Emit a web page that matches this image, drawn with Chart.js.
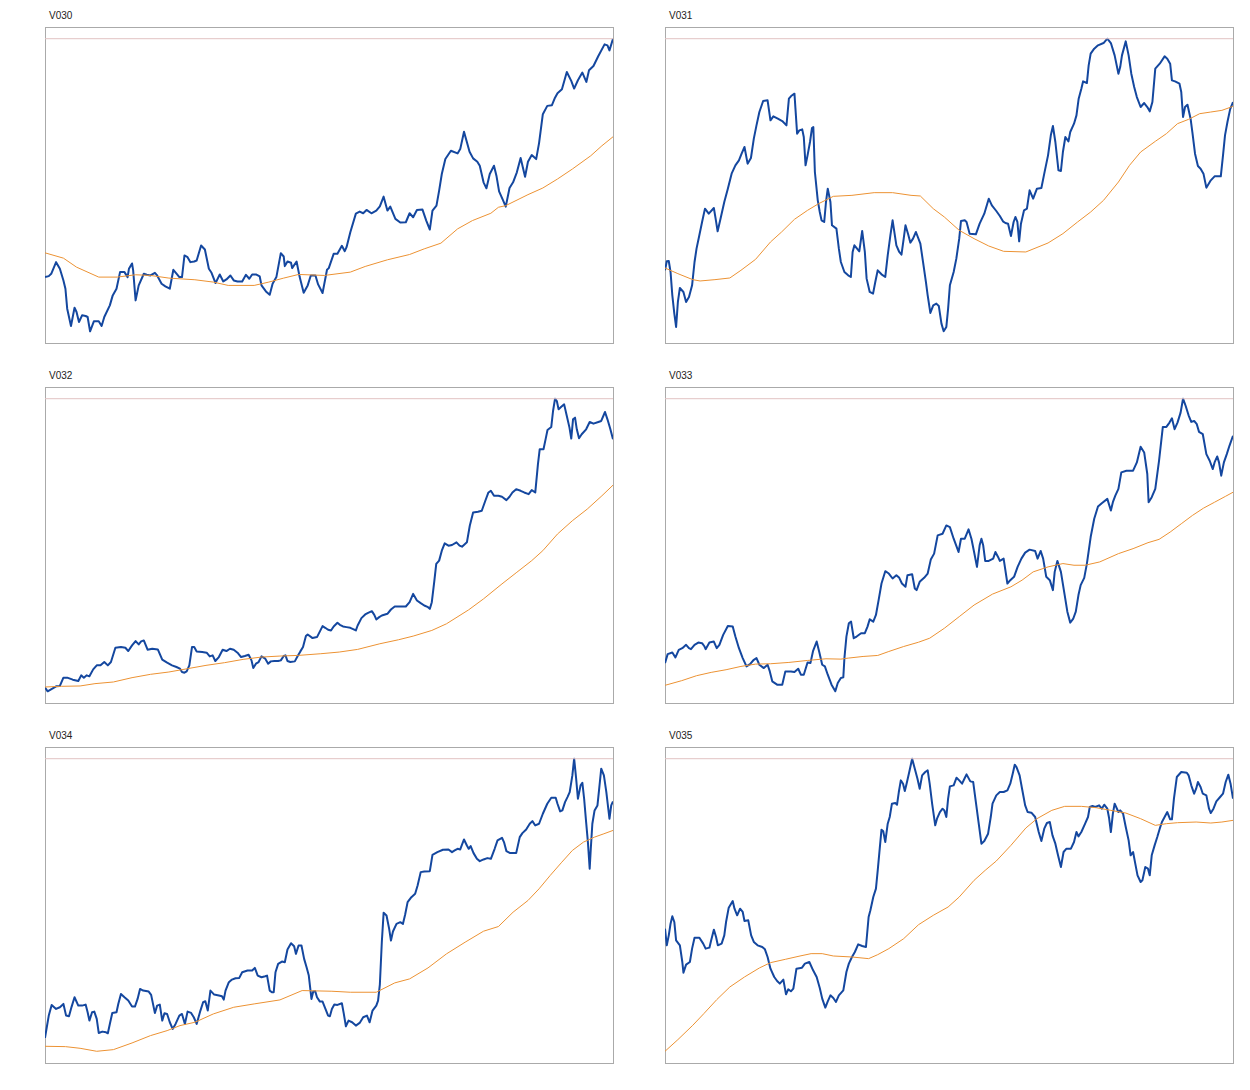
<!DOCTYPE html>
<html>
<head>
<meta charset="utf-8">
<script src="https://cdn.jsdelivr.net/npm/chart.js@4.4.1/dist/chart.umd.min.js"></script>
<style>
  body { margin: 0; background: #fff; font-family: "Liberation Sans", Arial, sans-serif; }
  .title { position: absolute; font-size: 10px; line-height: 10px; color: #222; }
  canvas { position: absolute; }
</style>
</head>
<body>
<script>
// panel names
const titles = ["V030", "V031", "V032", "V033", "V034", "V035"];

const v030Close = [[0,20.0],[1.7,20.3],[2.8,21.0],[5,24.5],[6.7,22.5],[8.3,19.0],[9.2,16.5],[10,10.5],[11.7,5.3],[13.3,10.8],[14.2,9.5],[15.3,6.5],[16.7,8.5],[18.3,8.3],[19.2,8.0],[20.3,3.7],[22,6.7],[24.2,6.7],[25.5,5.3],[26.7,8.0],[29.2,11.5],[30.5,14.5],[32.2,16.5],[33.8,21.5],[35.8,21.5],[37.2,20.0],[37.8,22.5],[39.2,24.1],[39.7,22.0],[40.8,13.0],[42.2,17.5],[44.5,21.0],[45.8,20.7],[47.5,20.5],[49.5,21.3],[50.5,20.5],[52.5,18.0],[54.2,17.2],[56.2,16.5],[57.8,22.2],[59.5,20.8],[60.5,20.0],[61.7,20.0],[62.8,26.5],[64.2,26.0],[65.5,24.5],[67.2,24.7],[68.3,25.0],[70.3,29.5],[72,28.3],[73.8,22.5],[75,21.3],[76.8,18.2],[78.7,20.8],[80.3,18.7],[81.7,19.3],[83.5,20.5],[85,19.0],[86.7,18.7],[88.8,18.7],[90.5,20.7],[92,19.5],[93.3,20.8],[95,20.8],[96.7,20.2],[97.5,17.5],[99.5,15.7],[101.2,14.7],[102.5,18.0],[104.2,20.0],[106.2,27.2],[107.5,26.2],[108,23.3],[109.2,24.7],[110.8,24.3],[111.3,22.7],[113.3,24.7],[114.7,20.0],[116.5,15.3],[118.3,17.5],[119.7,20.5],[121.8,20.5],[123,17.8],[125,15.2],[127,22.2],[127.8,22.7],[130,27.0],[131.7,27.0],[133.7,29.4],[135,27.8],[135.8,29.0],[137.5,33.5],[140,39.1],[141.7,39.7],[143.3,39.2],[144.8,40.2],[147,39.2],[149.2,40.0],[150.8,41.3],[152.5,44.2],[154.2,40.0],[155.5,41.2],[157.8,37.5],[160,36.4],[162.5,36.5],[164.2,39.2],[165.8,38.0],[167.5,40.2],[170,40.3],[171.7,37.0],[173.3,34.3],[174.5,40.0],[176.3,41.5],[177.5,46.0],[178.7,51.0],[180.3,55.5],[182.8,58.0],[185.8,57.2],[187,58.5],[188.7,63.7],[191.2,57.7],[192.8,55.7],[194.7,54.7],[195.8,53.5],[197.5,48.5],[198.8,46.7],[200.3,51.0],[202.2,53.5],[203.3,50.5],[204.5,45.8],[206.2,43.2],[207.5,41.2],[209.2,46.8],[210.8,48.5],[212.5,51.5],[214.2,55.8],[216.2,50.2],[217.5,54.7],[219.2,56.7],[221.2,55.5],[222.5,60.3],[224.2,69.0],[226.2,71.5],[228.3,71.7],[229.5,73.7],[230.8,75.3],[232.8,76.5],[235,81.7],[237,79.0],[238.3,76.7],[240,79.2],[242,81.5],[243.8,78.7],[245,82.2],[247,83.5],[249.2,86.5],[252,90.0],[253.3,89.7],[254.2,88.2],[255.8,91.7]];
const v030Avg = [[0,27.3],[8.3,25.7],[14.2,23.0],[24.2,20.0],[32.5,20.0],[40.8,20.7],[47.5,20.5],[55.8,19.7],[67.5,19.2],[75.8,18.5],[82.5,17.5],[94.2,17.5],[100.8,18.5],[107.5,19.7],[114.2,20.8],[125.8,20.5],[137.5,21.5],[144.2,23.2],[154.2,25.2],[164.2,26.8],[170.8,28.5],[178.3,30.2],[185.8,34.5],[192.5,37.0],[200.8,39.2],[204.2,41.0],[207.5,41.5],[217.5,44.8],[224.2,46.8],[230.8,49.5],[237.5,52.5],[245.8,56.5],[250.8,59.5],[255.8,62.2]];

const v031Close = [[0,22.0],[0.8,24.7],[1.7,24.8],[2.5,21.5],[3.3,14.5],[4.2,9.0],[5,5.0],[5.8,12.5],[6.7,16.7],[8.3,15.5],[9.5,12.5],[10.8,14.0],[12.2,17.5],[13.3,24.5],[14.2,28.5],[15.3,32.0],[16.7,36.5],[18,40.5],[19.7,39.0],[22,40.7],[22.8,37.5],[23.7,33.7],[25,37.5],[26.7,42.5],[28.3,46.5],[30,51.0],[31.7,53.5],[33.3,55.0],[34.5,57.0],[35.8,59.0],[37.2,54.0],[38.7,55.7],[40,61.5],[41.2,65.5],[42.5,69.5],[44.2,72.8],[46.2,73.0],[47.5,67.0],[48.8,68.2],[50.8,67.5],[52.8,66.8],[54.7,65.5],[55.8,73.5],[56.8,74.3],[58.3,75.0],[59.5,63.0],[60.5,64.0],[61.8,64.3],[62.5,62.0],[63.3,53.5],[64.2,56.5],[65.3,60.5],[66.2,64.7],[66.8,65.0],[67.5,51.5],[68.8,43.0],[69.7,39.5],[70.5,37.0],[71.7,36.5],[72.5,42.5],[73.3,46.5],[74.5,42.5],[75.2,35.5],[77.2,34.5],[78.3,28.5],[79.2,24.5],[80.8,21.5],[82.5,20.5],[83.7,20.0],[84.5,27.5],[85.3,29.5],[87.5,27.7],[88.8,33.8],[90,27.5],[90.8,19.5],[92.2,15.5],[93.7,15.0],[94.7,18.5],[95.8,22.0],[97.5,20.8],[99.2,20.0],[100.3,26.5],[101.5,32.5],[102.5,37.0],[104.2,29.5],[105.5,27.5],[106.5,26.7],[107.5,31.5],[108.3,35.5],[109.5,32.8],[110.5,30.3],[111.7,31.5],[113,33.5],[115,30.0],[116.2,24.5],[117.5,18.5],[118.3,14.5],[119.5,9.2],[120.8,11.5],[122.2,12.0],[123.3,11.3],[124.5,6.0],[125.5,3.7],[126.7,5.0],[127.5,10.5],[128.3,17.5],[130,21.5],[131.2,25.5],[132.5,31.5],[133.3,36.8],[135,37.0],[135.8,36.5],[137.2,33.0],[140,32.8],[141.7,36.0],[143.8,39.0],[145.8,43.5],[147.2,41.5],[149.2,39.8],[150.8,38.3],[152.2,36.7],[153.3,36.2],[154.5,36.0],[155.8,32.3],[157,36.5],[157.8,38.0],[158.7,36.5],[159.5,30.7],[160.3,36.0],[161.7,40.0],[163,40.5],[164.2,46.0],[165.8,43.5],[167.5,46.5],[169.5,46.7],[170.8,51.0],[172.5,56.5],[173.8,62.7],[174.7,65.3],[175.8,60.5],[177.2,52.0],[178.3,51.8],[179.2,57.5],[180.3,62.0],[181.7,60.7],[182.5,63.5],[184.2,66.0],[185.3,68.5],[186.3,73.5],[187.5,76.5],[188.3,78.7],[190,78.2],[190.8,83.5],[191.7,87.0],[193.3,88.5],[195,89.5],[197.5,90.2],[199.2,91.5],[200.8,90.2],[202.5,86.5],[204.2,81.0],[205,83.0],[205.8,86.5],[207.5,90.7],[208.8,86.5],[210,81.0],[211.3,77.0],[212.5,74.0],[214.2,71.0],[215.8,72.2],[217.2,71.0],[218.3,69.7],[219.5,72.5],[220.8,82.5],[222.8,84.0],[225,86.2],[226.2,85.5],[227.5,84.0],[228.3,79.0],[229.7,78.7],[231.7,78.0],[232.5,75.5],[233.3,68.0],[234.2,71.0],[235.3,71.7],[236.7,67.5],[237.5,63.5],[238.7,57.0],[240,53.3],[241.2,52.5],[242.5,51.0],[243.8,46.8],[245.8,49.0],[247.5,50.2],[250.3,50.2],[251.3,56.5],[252.2,62.5],[253.3,66.5],[254.5,70.3],[255.8,72.5]];
const v031Avg = [[0,22.7],[5.8,21.0],[12.5,19.2],[15.8,18.8],[22.5,19.2],[29.2,19.7],[34.2,22.0],[40.8,25.3],[47.5,30.5],[52.5,33.5],[58.3,37.3],[64.2,40.0],[69.2,42.0],[75.8,44.2],[84.2,44.5],[94.2,45.3],[102.5,45.3],[110.8,44.5],[115,44.3],[120.8,40.5],[125.8,38.0],[132.5,34.0],[139.2,31.5],[145.8,29.3],[152.5,27.7],[162.5,27.5],[172.5,30.2],[179.2,33.0],[185.8,36.5],[191.7,39.5],[197.5,43.0],[204.2,48.5],[209.2,53.5],[214.2,57.5],[220.8,60.7],[225.8,63.0],[230.8,66.0],[235.8,67.3],[240.8,69.0],[245.8,69.5],[250.8,70.0],[255.8,71.2]];

const v032Close = [[0,4.8],[1.2,3.7],[3.3,4.5],[5,5.2],[6.7,5.3],[8.3,7.8],[10,7.8],[12.5,7.2],[15,6.8],[16.3,8.5],[17.5,7.8],[18.8,8.5],[20,8.2],[21.7,10.3],[23.3,11.5],[25,11.5],[26.7,12.5],[28.3,11.5],[29.7,12.5],[31.7,16.8],[34.2,17.0],[36.2,16.8],[37.5,15.8],[39.2,17.5],[40.8,18.8],[42.2,17.8],[43.3,18.7],[44.5,19.0],[46.2,16.2],[48.3,16.5],[50.8,16.3],[52.8,13.2],[55,12.3],[57.2,11.5],[59.2,11.0],[60.8,10.5],[61.7,9.5],[62.8,9.3],[63.8,9.7],[65,11.5],[66.2,17.0],[67.2,17.0],[68.3,15.7],[70.8,15.5],[72.8,15.3],[74.2,14.2],[75.5,14.5],[76.7,12.8],[78.3,14.0],[80,16.2],[81.7,15.8],[83.3,16.5],[85,16.2],[86.7,15.3],[88.3,14.0],[90,14.3],[91.7,14.7],[93,13.0],[93.8,10.7],[95,12.0],[96.2,12.5],[97.5,14.2],[99.2,13.5],[100.5,12.0],[101.7,12.7],[103.3,12.8],[105,12.8],[106.2,13.0],[107.5,14.3],[108.3,14.5],[109.2,12.8],[110.5,12.5],[112.5,12.7],[113.8,14.3],[115,15.7],[116.2,17.0],[117.5,20.3],[118.3,20.8],[120.5,19.7],[122.5,20.0],[125,23.3],[126.2,22.8],[127.5,22.2],[128.8,22.0],[130,23.2],[131.7,24.3],[132.8,23.7],[134.2,23.2],[135.8,23.0],[137.5,22.8],[140,22.0],[140.8,23.5],[142.5,25.7],[144.2,26.8],[145.5,27.3],[147.2,27.8],[148.3,26.7],[149.2,25.3],[150.5,26.0],[151.7,26.5],[154.2,27.0],[155.8,28.3],[157.5,29.2],[160,29.2],[162.5,29.2],[164.2,30.5],[165.8,33.0],[167.5,31.0],[169.2,30.2],[170.8,29.5],[172.5,29.0],[173.3,28.5],[174.2,30.5],[175.3,36.7],[176.2,42.0],[177.5,43.0],[178.7,46.0],[180,48.2],[181.7,47.5],[183.3,47.7],[185.3,48.5],[186.7,47.5],[187.8,47.2],[190,48.5],[191.3,53.5],[192.8,57.5],[195,57.7],[196.7,58.0],[198.3,61.0],[199.7,63.5],[200.8,64.0],[202.2,62.5],[204.2,62.5],[205.8,62.2],[207.8,61.2],[209.2,62.2],[210.5,63.5],[212.2,64.5],[214.2,64.0],[215.8,63.5],[217.8,63.0],[219.2,64.2],[220.8,63.5],[222,72.0],[222.8,76.5],[224.5,76.5],[225.5,79.7],[226.3,82.3],[228,83.2],[228.8,88.0],[229.7,91.7],[230.5,91.0],[231.3,88.5],[232.5,89.3],[233.8,90.0],[235,86.5],[236.2,83.0],[237,79.7],[237.8,85.5],[238.7,86.0],[239.5,82.5],[240.5,79.8],[241.7,81.0],[243.7,82.5],[245.3,84.7],[247,84.2],[249.2,84.7],[250.5,85.0],[252.2,87.7],[253.3,85.5],[254.5,82.8],[255.8,79.5]];
const v032Avg = [[0,5.0],[7.5,5.2],[15.8,5.3],[22.5,6.0],[30.8,6.5],[39.2,7.8],[47.5,8.8],[55.8,9.5],[64.2,10.5],[72.5,11.5],[80.8,12.3],[89.2,13.3],[97.5,14.0],[105.8,14.3],[114.2,14.5],[124.2,15.0],[132.5,15.5],[140.8,16.3],[150.8,18.0],[159.2,19.2],[165.8,20.3],[174.2,22.0],[180.8,24.0],[190.8,28.2],[197.5,31.5],[205.8,36.0],[212.5,39.5],[219.2,43.0],[224.2,46.0],[230.8,51.0],[237.5,55.0],[244.2,58.5],[250.8,62.5],[255.8,65.7]];

const v033Close = [[0,12.0],[1.2,14.7],[3.3,15.2],[4.7,13.7],[6.2,16.0],[7.8,16.5],[9.5,17.5],[10.8,16.5],[11.7,16.2],[13.3,17.5],[15,18.2],[16.7,18.0],[17.8,17.0],[18.3,16.2],[20,18.2],[22,18.5],[23.3,16.5],[24.5,17.5],[26.2,20.5],[28.3,23.2],[30.5,23.0],[31.7,20.0],[33.3,16.5],[35,13.5],[36.7,11.0],[38.3,11.7],[40,13.0],[41.2,13.5],[42.5,11.5],[44.5,10.5],[46.2,11.5],[47.2,9.5],[48.3,6.5],[50.5,5.5],[52.8,5.5],[54.2,9.5],[56.7,9.5],[58.3,9.3],[60,10.3],[61.2,8.5],[62.5,8.5],[64.2,12.2],[65.5,12.0],[66.7,15.7],[68.3,18.5],[69.5,15.3],[70.8,11.5],[72,11.0],[73.3,8.5],[75,5.5],[76.7,3.5],[77.8,6.0],[79.2,7.5],[80.3,7.7],[80.8,13.5],[81.7,20.0],[82.8,24.0],[83.8,24.5],[85,19.5],[86.3,20.0],[88.3,21.0],[90,21.0],[91.2,23.0],[92.2,25.2],[93.8,24.5],[95,26.5],[96.2,31.0],[97.5,36.0],[99.2,39.7],[100.8,39.0],[102.5,37.5],[104.2,38.5],[105.5,37.7],[106.7,36.0],[108.3,35.0],[109.2,38.5],[111.3,38.8],[112.5,34.5],[113.3,34.0],[114.7,36.5],[116.7,37.7],[118.3,39.0],[119.7,43.2],[121.2,45.0],[122.8,50.5],[125,51.0],[126.7,53.5],[128.3,53.0],[130,49.5],[132.2,45.5],[133.3,49.5],[135,49.5],[136.7,52.3],[138,49.5],[139.2,45.5],[140.5,41.0],[141.7,47.5],[142.5,49.5],[143.3,47.5],[144.2,42.8],[145.8,42.8],[147.8,43.5],[148.8,45.5],[150,44.0],[150.8,42.8],[152.5,43.5],[154.2,36.0],[155.5,37.0],[157.2,38.0],[158.8,41.0],[160.5,43.5],[162.2,45.3],[164.2,46.2],[166.7,45.8],[167.8,43.5],[169.2,45.8],[170.3,43.5],[171.7,38.0],[173.3,37.0],[174.7,34.0],[175.5,39.5],[176.7,42.8],[178.3,39.5],[180,32.5],[181.2,27.5],[182.5,24.2],[183.8,25.3],[185,27.5],[186.2,32.5],[187.2,35.5],[188.8,37.7],[190,42.0],[191.7,50.0],[193.3,55.5],[195,59.2],[196.7,60.2],[199.2,61.5],[200.8,58.0],[201.7,60.5],[202.8,62.5],[204.2,64.5],[205.5,69.5],[207.8,70.0],[210.8,70.0],[212.5,72.5],[214.2,77.2],[215.8,75.5],[217.2,69.0],[217.8,60.5],[219.2,62.0],[220.8,64.5],[222.5,73.0],[224.2,83.2],[225.8,83.2],[227.2,84.5],[228.3,85.8],[229.5,82.5],[230.8,84.5],[232.2,87.5],[233.3,91.7],[234.5,89.5],[235.8,86.7],[237,84.7],[238.3,85.0],[239.5,84.0],[240.5,81.7],[242.2,81.0],[243.8,75.0],[245.3,73.0],[246.7,70.5],[247.5,72.5],[248.7,74.3],[249.5,72.5],[250.5,68.5],[251.7,72.5],[253,75.0],[254.2,77.5],[255.8,80.5]];
const v033Avg = [[0,5.3],[7.5,6.7],[14.2,8.2],[20.8,9.2],[27.5,10.0],[34.2,11.0],[40.8,11.7],[47.5,11.8],[55.8,12.2],[64.2,12.8],[72.5,13.3],[79.2,13.2],[82.5,13.5],[89.2,14.0],[95.8,14.3],[100.8,15.5],[107.5,17.0],[114.2,18.3],[119.2,19.5],[125.8,22.5],[132.5,26.0],[139.2,29.5],[147.5,32.8],[155.8,35.0],[160.8,37.0],[165.8,39.5],[172.5,41.0],[179.2,42.0],[184.2,41.5],[189.2,41.5],[195.8,42.5],[204.2,45.0],[210.8,46.5],[217.5,48.3],[222.5,49.3],[227.5,51.5],[232.5,54.0],[237.5,56.5],[242.5,58.7],[247.5,60.5],[252.5,62.3],[255.8,63.5]];

const v034Close = [[0,7.8],[0.8,11.0],[1.7,14.5],[3,17.7],[5,16.5],[6.7,17.0],[8.3,18.0],[9.5,14.5],[10.8,14.3],[12,17.2],[13.3,20.0],[15,17.5],[16.7,17.5],[18.3,17.8],[19.2,15.5],[20,13.0],[21.2,15.5],[22.2,15.7],[23.3,13.5],[24.2,9.3],[25.8,9.7],[27.5,9.5],[28.3,9.2],[29.2,12.0],[30.3,15.3],[32.2,15.5],[33,18.0],[34.2,21.0],[35.8,20.0],[37.5,19.0],[39.2,17.2],[40.5,17.2],[41.7,19.5],[42.8,22.5],[44.2,22.0],[46.7,21.7],[47.8,20.7],[48.8,17.5],[49.5,15.3],[50.5,17.5],[51.7,17.8],[52.8,13.0],[53.8,15.2],[55,15.0],[56.2,12.5],[57.5,10.5],[58.8,12.0],[60.5,14.5],[61.7,15.0],[63,12.0],[64.2,15.7],[65.8,15.3],[67,14.0],[68.3,12.0],[70,16.0],[71.2,18.5],[72.2,18.8],[73.3,16.0],[74.5,22.0],[76.2,20.8],[78.3,20.5],[79.7,20.3],[80.5,19.3],[81.3,22.0],[82.8,24.5],[84.2,25.3],[85.8,25.7],[87.5,25.8],[88.8,27.5],[91.2,28.0],[93.3,28.0],[94.5,28.8],[95.8,26.5],[97.5,26.0],[99.2,26.3],[100,26.5],[101.2,22.0],[102.2,21.5],[103,21.5],[103.8,27.5],[105,30.0],[106.7,30.7],[108,30.5],[109.2,34.3],[110.8,36.2],[112.2,35.3],[113,33.0],[114.2,35.5],[115.5,35.5],[116.7,31.5],[117.8,29.0],[118.8,26.5],[120,19.5],[120.8,21.7],[121.7,21.8],[122.5,20.0],[123.8,18.7],[125,18.7],[126.3,16.5],[127.5,14.5],[128.3,14.3],[129.2,16.5],[130.3,17.8],[131.7,17.7],[133.7,18.2],[134.5,15.3],[135.5,11.3],[136.7,13.0],[138.3,12.5],[140,11.5],[141.7,12.3],[143.3,14.0],[145,14.5],[146.2,12.5],[147.5,16.0],[149.2,17.5],[150,19.0],[150.8,23.8],[151.7,36.7],[152.5,45.3],[153.8,44.5],[155,40.5],[155.8,37.0],[156.7,39.7],[158.3,42.0],[160,42.5],[161.2,42.0],[162.2,44.8],[163.3,48.5],[165,50.0],[166.7,51.0],[167.8,53.5],[169.2,57.5],[170.8,57.7],[173.3,57.8],[174.5,62.7],[176.7,63.5],[179.2,64.2],[181.7,64.3],[183.3,63.5],[184.5,64.0],[185.8,64.5],[187,64.3],[188.7,67.3],[190,65.5],[190.8,64.5],[191.7,65.3],[193,63.2],[194.5,61.5],[195.8,60.8],[197.5,61.3],[199.2,61.7],[200.8,61.5],[202.5,64.5],[203.8,67.0],[205.8,67.8],[206.7,66.5],[207.8,63.8],[209.5,63.2],[212.2,63.2],[213.8,68.0],[215,69.2],[216.7,70.3],[218.3,72.0],[219.5,72.8],[220.8,71.5],[222.5,72.0],[224.2,75.0],[226.2,78.0],[228,79.8],[230,79.8],[230.8,78.0],[232,75.7],[233,76.0],[234.2,78.5],[235.3,80.0],[236.3,81.5],[237.5,86.5],[238.3,91.5],[239.2,85.5],[240,79.5],[241.2,83.5],[242,84.3],[242.8,79.5],[243.7,72.5],[244.5,66.5],[245.3,58.5],[245.8,64.5],[246.5,72.0],[247.5,76.0],[248.8,77.5],[249.5,82.0],[250.5,88.5],[251.7,86.5],[252.8,81.5],[254.2,73.5],[255,77.5],[255.8,78.7]];
const v034Avg = [[0,5.3],[9.2,5.2],[15.8,4.7],[23.3,3.8],[30.8,4.3],[39.2,6.3],[47.5,8.5],[55,10.0],[60.8,11.5],[67.5,12.5],[75.8,15.0],[85,17.0],[94.2,18.0],[105.8,19.2],[115.8,22.0],[129.2,21.8],[137.5,21.5],[149.2,21.5],[157.5,24.3],[164.2,25.5],[172.5,28.8],[180.8,33.0],[189.2,36.5],[197.5,39.8],[204.2,41.2],[210.8,45.5],[217.5,49.0],[222.5,52.5],[227.5,56.5],[232.5,60.3],[237.5,64.0],[242.5,66.5],[247.5,68.0],[251.7,69.0],[255.8,70.0]];

const v035Close = [[0,40.5],[0.8,35.5],[1.7,38.5],[2.5,42.0],[3.3,44.2],[4.2,42.5],[5,37.0],[6.7,35.5],[7.8,30.5],[8.3,27.3],[9.5,29.7],[11.2,30.5],[12.2,34.5],[13.3,37.8],[15.5,37.8],[17.2,36.0],[18.3,34.5],[20,34.8],[20.8,37.0],[22,40.2],[23,38.0],[23.8,35.5],[25.5,36.0],[26.7,38.5],[27.5,42.5],[28.7,46.8],[30.5,48.8],[31.3,46.5],[32.5,44.5],[33.8,46.5],[35,45.5],[35.8,42.8],[37.5,43.0],[38.8,38.5],[40,36.5],[41.7,35.5],[43.8,35.0],[45,34.3],[46.2,32.0],[47.5,28.5],[49.2,26.0],[50.5,24.8],[51.7,24.0],[53.3,25.2],[54.5,20.8],[55.5,22.3],[56.7,21.7],[57.8,22.5],[59.2,28.5],[61.7,28.8],[63,30.0],[65,30.5],[66.7,28.0],[68.3,26.0],[69.7,22.7],[70.8,19.5],[72.2,16.8],[73.3,18.7],[74.5,20.5],[75.8,19.7],[77,18.5],[78.3,20.5],[80.3,22.0],[81.7,27.5],[82.8,30.0],[84.2,32.0],[85.5,33.5],[87,35.8],[88.8,35.3],[90.5,35.0],[91.7,44.0],[92.5,46.0],[93.8,50.0],[95,52.5],[95.8,58.0],[96.7,64.5],[97.5,70.2],[98.3,69.7],[99.2,66.5],[100.3,72.0],[101.2,74.0],[102.2,78.0],[103.7,78.2],[104.5,77.7],[105.3,81.5],[106.2,85.0],[107.2,84.0],[108,81.8],[108.8,84.0],[110,87.5],[111.3,91.5],[112.5,88.5],[113.7,85.5],[114.7,82.5],[115.8,86.5],[117.2,87.5],[118.3,88.0],[119.2,84.0],[120.3,78.0],[121.7,71.5],[122.5,73.5],[123.8,75.5],[125,76.5],[125.8,76.0],[126.7,74.0],[127.5,79.5],[128.3,83.2],[130,83.5],[131.3,85.8],[132.5,85.0],[133.8,84.0],[135,85.7],[135.8,86.8],[137.5,84.7],[138.8,84.5],[140,78.5],[141.2,72.5],[142.5,66.0],[143.8,66.8],[145.5,69.0],[146.7,74.0],[147.5,78.0],[149.2,80.5],[150.8,81.5],[152.5,81.5],[154.2,82.0],[155.5,84.0],[156.7,87.3],[157.5,89.7],[158.3,89.0],[159.7,86.5],[160.8,82.5],[162.2,77.5],[163.3,75.5],[165,75.3],[166.7,74.0],[168.3,69.5],[169.5,66.8],[170.8,70.5],[172,72.2],[173.3,72.5],[174.5,68.5],[175.8,66.0],[177,62.5],[178.3,59.0],[179.5,63.5],[180.8,64.5],[182.8,64.5],[184.2,66.5],[185.3,69.5],[186.2,68.2],[187.5,69.5],[189.2,72.0],[190.5,74.0],[191.3,77.0],[192.5,77.3],[193.8,77.0],[195.5,77.5],[196.7,76.5],[197.8,77.7],[199.2,76.5],[200,73.7],[200.8,69.5],[201.7,75.0],[202.5,78.0],[204.2,75.5],[205,76.0],[206.3,75.0],[207.5,71.0],[208.8,67.0],[209.7,62.5],[210.8,63.5],[211.7,60.3],[212.8,56.5],[214.2,54.5],[215,55.0],[216.3,59.0],[217.5,58.5],[218.3,56.5],[219.2,62.5],[220.5,65.5],[221.7,68.0],[222.8,70.5],[223.8,72.5],[225,74.0],[226.2,75.5],[227.5,73.3],[228.3,73.3],[229.2,79.5],[230.5,86.0],[232.5,87.5],[235,87.3],[235.8,86.5],[237,83.5],[238.3,81.0],[239.2,82.5],[240,84.5],[241.2,83.0],[242.2,81.0],[243.8,80.5],[245,76.5],[245.8,75.2],[247,76.5],[248.3,78.7],[250,80.0],[251.3,81.0],[252.5,84.5],[253.7,86.7],[254.7,84.0],[255.8,79.5]];
const v035Avg = [[0,3.7],[5.8,7.2],[12.5,11.5],[17.5,15.0],[23.3,19.2],[29.2,23.0],[35.8,26.0],[42.5,28.7],[47.5,30.3],[54.2,31.3],[60.8,32.3],[65.8,33.0],[70.8,33.0],[75.8,32.3],[84.2,32.0],[91.7,31.5],[95.8,32.7],[100.8,34.5],[107.5,37.5],[114.2,41.7],[120.8,44.5],[127.5,47.0],[132.5,50.0],[139.2,55.0],[144.2,58.0],[149.2,60.8],[155.8,65.5],[162.5,70.7],[167.5,73.5],[174.2,76.0],[180,77.2],[187.5,77.2],[194.2,76.8],[200.8,76.0],[207.5,75.2],[214.2,73.5],[220.8,71.5],[225.8,72.0],[230.8,72.3],[239.2,72.5],[245.8,72.2],[250.8,72.5],[255.8,73.0]];

const closes = [v030Close, v031Close, v032Close, v033Close, v034Close, v035Close];
const avgs = [v030Avg, v031Avg, v032Avg, v033Avg, v034Avg, v035Avg];

// grid of panels
const colX = [45, 665];
const rowY = [27, 387, 747];
const boxW = 568, boxH = 316;

// grey frame around the plot area
const framePlugin = {
  id: "frame",
  beforeDatasetsDraw(chart) {
    const { ctx, chartArea: a } = chart;
    ctx.save();
    ctx.strokeStyle = "#aaaaaa";
    ctx.lineWidth = 1;
    ctx.strokeRect(a.left + 0.5, a.top + 0.5, a.right - a.left, a.bottom - a.top);
    ctx.restore();
  }
};

const toXY = arr => arr.map(p => ({ x: p[0], y: p[1] }));

titles.forEach((name, i) => {
  const left = colX[i % 2];
  const top = rowY[Math.floor(i / 2)];

  const t = document.createElement("div");
  t.className = "title";
  t.textContent = name;
  t.style.left = (left + 4) + "px";
  t.style.top = (top - 16) + "px";
  document.body.appendChild(t);

  const cv = document.createElement("canvas");
  cv.width = boxW + 2;
  cv.height = boxH + 2;
  cv.style.left = (left - 1) + "px";
  cv.style.top = (top - 1) + "px";
  document.body.appendChild(cv);

  const close = closes[i];
  const avg = avgs[i];
  const hi = Math.max(...close.map(p => p[1]));
  const lo = Math.min(...close.map(p => p[1]), ...avg.map(p => p[1]));
  const pad = (hi - lo) * 0.04;
  const lastDay = close[close.length - 1][0];

  new Chart(cv, {
    type: "line",
    data: {
      datasets: [
        {
          data: [{ x: 0, y: hi }, { x: lastDay, y: hi }],
          borderColor: "#e2c2c2",
          borderWidth: 1
        },
        {
          data: toXY(avg),
          borderColor: "#ec9233",
          borderWidth: 1
        },
        {
          data: toXY(close),
          borderColor: "#14479f",
          borderWidth: 2,
          borderJoinStyle: "round"
        }
      ]
    },
    options: {
      responsive: false,
      animation: false,
      events: [],
      layout: { padding: 1 },
      elements: { point: { radius: 0 }, line: { tension: 0 } },
      plugins: { legend: { display: false }, tooltip: { enabled: false } },
      scales: {
        x: { type: "linear", display: false, min: 0, max: lastDay },
        y: { display: false, min: lo - pad, max: hi + pad }
      }
    },
    plugins: [framePlugin]
  });
});
</script>
</body>
</html>
